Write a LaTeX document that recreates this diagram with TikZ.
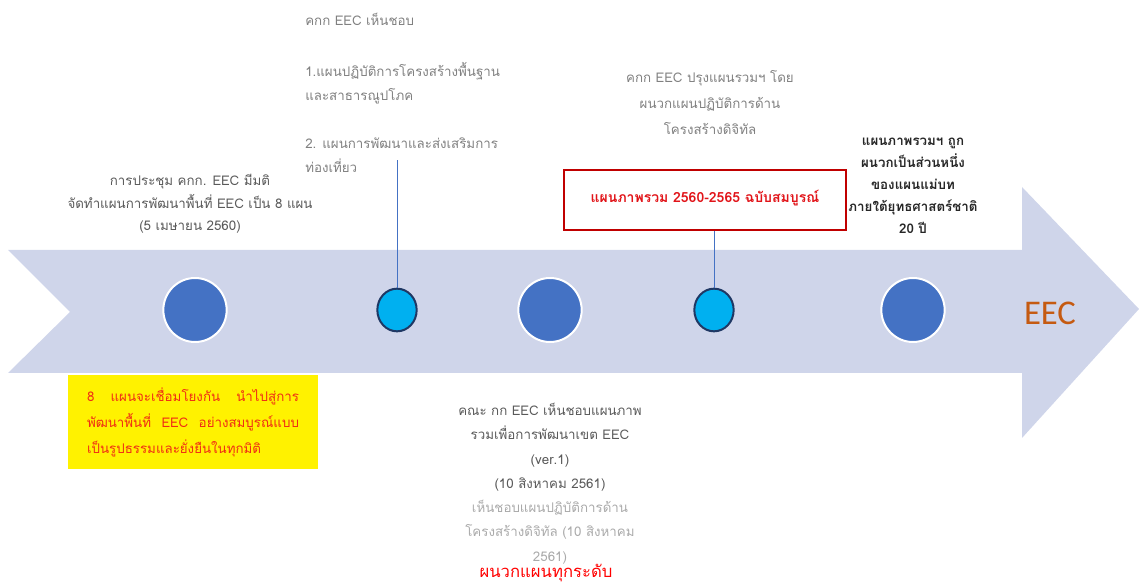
\documentclass[tikz,border=0pt]{standalone}
\usepackage{fontspec}
\setmainfont[Script=Thai]{Loma}
\newfontfamily\latinfont{Carlito}
\usetikzlibrary{shapes.geometric}

\definecolor{arrowfill}{RGB}{207,213,234}
\definecolor{dotblue}{RGB}{68,114,196}
\definecolor{dotcyan}{RGB}{0,176,240}
\definecolor{dotrim}{RGB}{31,56,100}
\definecolor{boxred}{RGB}{192,0,0}
\definecolor{planred}{RGB}{225,20,25}
\definecolor{notered}{RGB}{240,45,20}
\definecolor{eecorange}{RGB}{197,90,17}
\definecolor{darkgray}{RGB}{89,89,89}
\definecolor{midgray}{RGB}{128,128,128}
\definecolor{palegray}{RGB}{170,170,170}

\begin{document}
\begin{tikzpicture}[x=0.75pt, y=-0.75pt,
    bigdot/.style={ellipse, draw=white, line width=1.5pt, fill=dotblue, minimum width=47.5pt, minimum height=48pt, inner sep=0pt},
    smalldot/.style={ellipse, draw=dotrim, line width=1.5pt, fill=dotcyan, minimum width=29.5pt, minimum height=32pt, inner sep=0pt},
    stem/.style={draw=dotblue, line width=0.7pt},
    note/.style={align=center, inner sep=0pt, font=\fontsize{10}{17}\selectfont},
    planbox/.style={draw=boxred, line width=1.5pt, minimum width=212pt, minimum height=45pt, text=planred, font=\bfseries\fontsize{10.5}{14}\selectfont},
    linkbox/.style={fill=yellow, text=notered, text width=159pt, inner xsep=14pt, minimum height=70pt, align=left, font=\fontsize{10}{19.5}\selectfont}
]
    \useasboundingbox (0,0) rectangle (1139,584);

    % Big arrow
    \fill[arrowfill] (8,250) -- (1022,250) -- (1022,187) -- (1139,309) -- (1022,438)
        -- (1022,373) -- (8,373) -- (70,312) -- cycle;

    % Milestone dots
    \foreach \x/\name/\kind in {195/d1/bigdot, 397/d2/smalldot, 550/d3/bigdot, 714/d4/smalldot, 913/d5/bigdot}
        \node[\kind] (\name) at (\x,310) {};

    \node[font=\latinfont\fontsize{26}{30}\selectfont, text=eecorange] (eec) at (1050,313) {EEC};

    % Texts above the arrow
    \node[note, text=darkgray] (meet) at (190,204)
        {การประชุม คกก. EEC มีมติ\\จัดทำแผนการพัฒนาพื้นที่ EEC เป็น 8 แผน\\(5 เมษายน 2560)};

    \node[note, text=midgray, align=left, anchor=north west, font=\fontsize{10}{18}\selectfont] (approve) at (305,13)
        {คกก EEC เห็นชอบ\\[20pt]1.แผนปฏิบัติการโครงสร้างพื้นฐาน\\และสาธารณูปโภค\\[18pt]2. แผนการพัฒนาและส่งเสริมการ\\ท่องเที่ยว};

    \node[note, text=midgray, font=\fontsize{10}{19.5}\selectfont] (revise) at (710,103)
        {คกก EEC ปรุงแผนรวมฯ โดย\\ผนวกแผนปฏิบัติการด้าน\\โครงสร้างดิจิทัล};

    \node[planbox] (plan) at (705,200) {\raisebox{5pt}{แผนภาพรวม 2560-2565 ฉบับสมบูรณ์}};

    \node[note, text=black!85, font=\bfseries\fontsize{10}{16.5}\selectfont] (master) at (913,186)
        {แผนภาพรวมฯ ถูก\\ผนวกเป็นส่วนหนึ่ง\\ของแผนแม่บท\\ภายใต้ยุทธศาสตร์ชาติ\\20 ปี};

    % Stems
    \coordinate (d2top) at (397,160);
    \draw[stem] (d2.north) -- (d2top);
    \draw[stem] (d4.north) -- (d4.north |- plan.south);

    % Texts below the arrow
    \node[linkbox] (link) at (193,422)
        {8\hfill แผนจะเชื่อมโยงกัน\hfill นำไปสู่การ\\พัฒนาพื้นที่\hfill EEC\hfill อย่างสมบูรณ์แบบ\\เป็นรูปธรรมและยั่งยืนในทุกมิติ};

    \node[note, anchor=north, font=\fontsize{10}{18.2}\selectfont] (agree) at (550,403)
        {\textcolor{darkgray}{คณะ กก EEC เห็นชอบแผนภาพ}\\\textcolor{darkgray}{รวมเพื่อการพัฒนาเขต EEC}\\\textcolor{darkgray}{(ver.1)}\\\textcolor{darkgray}{(10 สิงหาคม 2561)}\\\textcolor{palegray}{เห็นชอบแผนปฏิบัติการด้าน}\\\textcolor{palegray}{โครงสร้างดิจิทัล (10 สิงหาคม}\\\textcolor{palegray}{2561)}};

    \node[font=\fontsize{12.5}{14}\selectfont, text=red, inner sep=0pt] (allmerge) at (546,573) {ผนวกแผนทุกระดับ};

\end{tikzpicture}
\end{document}
